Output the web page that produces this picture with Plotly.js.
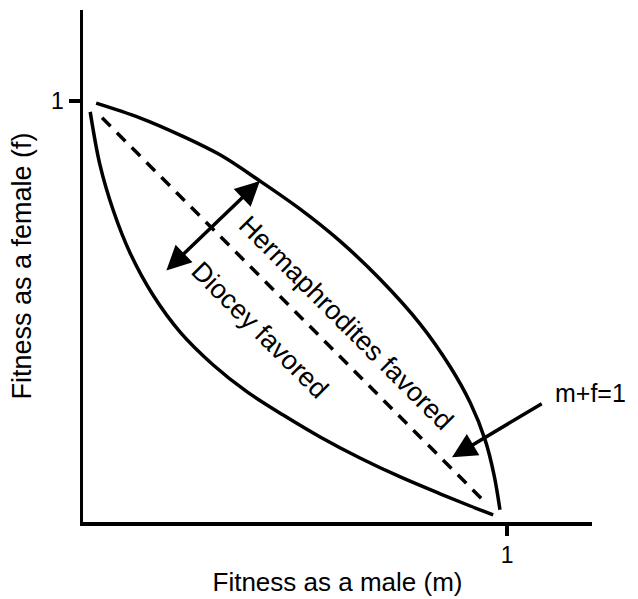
<!DOCTYPE html>
<html>
<head>
<meta charset="utf-8">
<script src="https://cdn.plot.ly/plotly-3.0.1.min.js"></script>
<style>html,body{margin:0;padding:0;background:#fff;}#chart{width:638px;height:599px;}</style>
</head>
<body>
<div id="chart"></div>
<script>
// Upper (convex) boundary: hermaphrodites favored above the dashed line
const upperM = [0.031, 0.134, 0.229, 0.323, 0.417, 0.512, 0.606, 0.700, 0.795, 0.866, 0.913, 0.948, 0.969, 0.983];
const upperF = [0.995, 0.960, 0.919, 0.872, 0.810, 0.743, 0.667, 0.577, 0.470, 0.368, 0.283, 0.195, 0.112, 0.029];
// Lower (concave) boundary: dioecy favored below the dashed line
const lowerM = [0.017, 0.040, 0.071, 0.111, 0.165, 0.229, 0.307, 0.387, 0.472, 0.559, 0.653, 0.748, 0.842, 0.913, 0.967];
const lowerF = [0.974, 0.848, 0.741, 0.639, 0.539, 0.451, 0.373, 0.309, 0.254, 0.202, 0.152, 0.107, 0.067, 0.038, 0.017];
// Dashed line m + f = 1
const lineM = [0.045, 0.943];
const lineF = [0.960, 0.052];
// Tick labels
const tickVals = [1];
const tickText = ['1'];
// Labels
const xTitle = 'Fitness as a male (m)';
const yTitle = 'Fitness as a female (f)';
const hermText = 'Hermaphrodites favored';
const dioText = 'Diocey favored';
const lineText = 'm+f=1';

const FONT = 'Liberation Sans, Arial, Helvetica, sans-serif';

const traces = [
  {x: upperM, y: upperF, mode: 'lines', line: {color: '#000', width: 3.5, shape: 'spline', smoothing: 1}, hoverinfo: 'skip'},
  {x: lowerM, y: lowerF, mode: 'lines', line: {color: '#000', width: 3.5, shape: 'spline', smoothing: 1}, hoverinfo: 'skip'},
  {x: lineM, y: lineF, mode: 'lines', line: {color: '#000', width: 3.5, dash: '12px,9px'}, hoverinfo: 'skip'}
];

const layout = {
  width: 638, height: 599,
  margin: {l: 83, r: 46, t: 10, b: 77},
  paper_bgcolor: '#fff', plot_bgcolor: '#fff',
  showlegend: false,
  font: {family: FONT, color: '#000'},
  xaxis: {
    range: [0, 1.2], showgrid: false, zeroline: false,
    showline: true, linecolor: '#000', linewidth: 3.5,
    tickvals: tickVals, ticktext: tickText, ticks: 'outside', ticklen: 10, tickwidth: 3.5, tickcolor: '#000',
    tickfont: {size: 23, family: FONT},
    title: {text: xTitle, font: {size: 26, family: FONT}, standoff: 6},
    fixedrange: true
  },
  yaxis: {
    range: [0, 1.216], showgrid: false, zeroline: false,
    showline: true, linecolor: '#000', linewidth: 3.5,
    tickvals: tickVals, ticktext: tickText, ticks: 'outside', ticklen: 11, tickwidth: 3.5, tickcolor: '#000',
    tickfont: {size: 23, family: FONT},
    title: {text: yTitle, font: {size: 27, family: FONT}, standoff: 12},
    fixedrange: true
  },
  annotations: [
    {x: 0.620, y: 0.472, xref: 'x', yref: 'y', text: hermText, showarrow: false, textangle: 45,
     font: {size: 27, family: FONT, color: '#000'}},
    {x: 0.417, y: 0.457, xref: 'x', yref: 'y', text: dioText, showarrow: false, textangle: 45,
     font: {size: 27, family: FONT, color: '#000'}},
    {x: 0.417, y: 0.810, xref: 'x', yref: 'y', ax: 0.193, ay: 0.594, axref: 'x', ayref: 'y',
     text: '', showarrow: true, arrowside: 'end+start', arrowhead: 2, startarrowhead: 2,
     arrowsize: 1.4, startarrowsize: 1.4, arrowwidth: 3.5, arrowcolor: '#000'},
    {x: 0.870, y: 0.154, xref: 'x', yref: 'y', ax: 1.085, ay: 0.283, axref: 'x', ayref: 'y',
     text: '', showarrow: true, arrowhead: 2, arrowsize: 1.4, arrowwidth: 3.5, arrowcolor: '#000'},
    {x: 1.196, y: 0.306, xref: 'x', yref: 'y', text: lineText, showarrow: false,
     font: {size: 25, family: FONT, color: '#000'}}
  ]
};

Plotly.newPlot('chart', traces, layout, {displayModeBar: false, staticPlot: true});
</script>
</body>
</html>
